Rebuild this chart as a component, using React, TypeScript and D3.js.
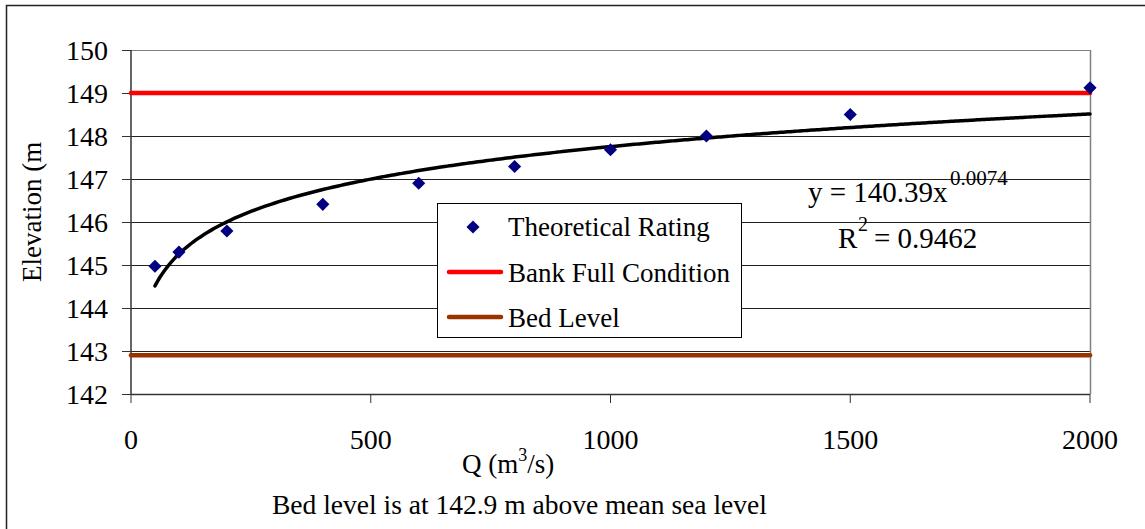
import React from "react";
import * as d3 from "d3";

const discharge = [50, 100, 200, 400, 600, 800, 1000, 1200, 1500, 2000];
const elevation = [144.97, 145.3, 145.79, 146.41, 146.9, 147.29, 147.68, 148.0, 148.5, 149.12];
const yTicks = [142, 143, 144, 145, 146, 147, 148, 149, 150];
const xTicks = [0, 500, 1000, 1500, 2000];
const bankFull = 149;
const bedLevel = 142.9;
const trendCoef = 140.39;
const trendExp = 0.0074;
const trendRange = [50, 2000];

const W = 1145;
const H = 529;
const FONT = '"Liberation Serif", "DejaVu Serif", serif';

const T = (props: any) => <text fill="#000" {...props} style={{ fontFamily: FONT }} />;

export default function App() {
  const x = d3.scaleLinear().domain([0, 2000]).range([131, 1090]);
  const y = d3.scaleLinear().domain([142, 150]).range([394, 50]);

  const trendX = d3.range(trendRange[0], trendRange[1] + 1, 10);
  const trendLine = d3
    .line<number>()
    .x((d) => x(d))
    .y((d) => y(trendCoef * Math.pow(d, trendExp)))
    .curve(d3.curveMonotoneX);

  const diamond = d3.symbol().type(d3.symbolDiamond2).size(110)();

  return (
    <svg
      width={W}
      height={H}
      style={{ position: "absolute", left: 0, top: 0, background: "#fff", fontFamily: FONT }}
    >
      <rect x={0} y={0} width={W} height={H} fill="#fff" />
      <path d={`M6.5,${H} V5.5 H${W}`} fill="none" stroke="#222" strokeWidth={1.5} />

      {yTicks.map((t) => (
        <line
          key={"g" + t}
          x1={x(0)}
          x2={x(2000)}
          y1={Math.round(y(t)) + 0.5}
          y2={Math.round(y(t)) + 0.5}
          stroke={t === 150 ? "#808080" : "#222"}
          strokeWidth={1}
        />
      ))}
      <line x1={x(2000) + 0.5} x2={x(2000) + 0.5} y1={y(150)} y2={y(142)} stroke="#808080" strokeWidth={1.5} />

      <line x1={x(0)} x2={x(0)} y1={y(150)} y2={y(142)} stroke="#333" strokeWidth={1.5} />
      {yTicks.map((t) => (
        <g key={"yt" + t}>
          <line x1={x(0) - 9} x2={x(0)} y1={Math.round(y(t)) + 0.5} y2={Math.round(y(t)) + 0.5} stroke="#333" strokeWidth={1} />
          <T x={108} y={y(t) + 10} textAnchor="end" fontSize={28}>
            {t}
          </T>
        </g>
      ))}

      <line x1={x(0)} x2={x(2000)} y1={y(142) + 0.5} y2={y(142) + 0.5} stroke="#333" strokeWidth={1.5} />
      {xTicks.map((t) => (
        <g key={"xt" + t}>
          <line x1={x(t)} x2={x(t)} y1={y(142)} y2={y(142) + 9} stroke="#333" strokeWidth={1} />
          <T x={x(t)} y={449} textAnchor="middle" fontSize={28}>
            {t}
          </T>
        </g>
      ))}

      <line x1={x(0)} x2={x(2000)} y1={y(bankFull)} y2={y(bankFull)} stroke="#FF0000" strokeWidth={4.5} strokeLinecap="round" />
      <line x1={x(0)} x2={x(2000)} y1={y(bedLevel)} y2={y(bedLevel)} stroke="#993300" strokeWidth={4.5} strokeLinecap="round" />

      <path d={trendLine(trendX) || ""} fill="none" stroke="#000" strokeWidth={3.5} strokeLinecap="round" />

      {discharge.map((q, i) => (
        <path key={"p" + q} d={diamond || ""} transform={`translate(${x(q)},${y(elevation[i])})`} fill="#000080" />
      ))}

      <T x={808} y={202} fontSize={29}>
        y = 140.39x
      </T>
      <T x={950} y={185} fontSize={21}>
        0.0074
      </T>
      <T x={838} y={248} fontSize={29}>
        R
      </T>
      <T x={858} y={231} fontSize={20}>
        2
      </T>
      <T x={874} y={248} fontSize={29}>
        = 0.9462
      </T>

      <rect x={437.5} y={203.5} width={304} height={134} fill="#fff" stroke="#000" strokeWidth={1} />
      <path d={diamond || ""} transform="translate(473,227)" fill="#000080" />
      <T x={508} y={236} fontSize={27}>
        Theoretical Rating
      </T>
      <line x1={449} x2={501} y1={272} y2={272} stroke="#FF0000" strokeWidth={4.5} strokeLinecap="round" />
      <T x={508} y={282} fontSize={27}>
        Bank Full Condition
      </T>
      <line x1={449} x2={501} y1={317} y2={317} stroke="#993300" strokeWidth={4.5} strokeLinecap="round" />
      <T x={508} y={327} fontSize={27}>
        Bed Level
      </T>

      <T transform="translate(41,282) rotate(-90)" fontSize={27}>
        Elevation (m
      </T>
      <T x={462} y={473} fontSize={27}>
        Q (m
        <tspan dy={-12} fontSize={18}>3</tspan>
        <tspan dy={12}>/s)</tspan>
      </T>
      <T x={272} y={514} fontSize={27.5}>
        Bed level is at 142.9 m above mean sea level
      </T>
    </svg>
  );
}
